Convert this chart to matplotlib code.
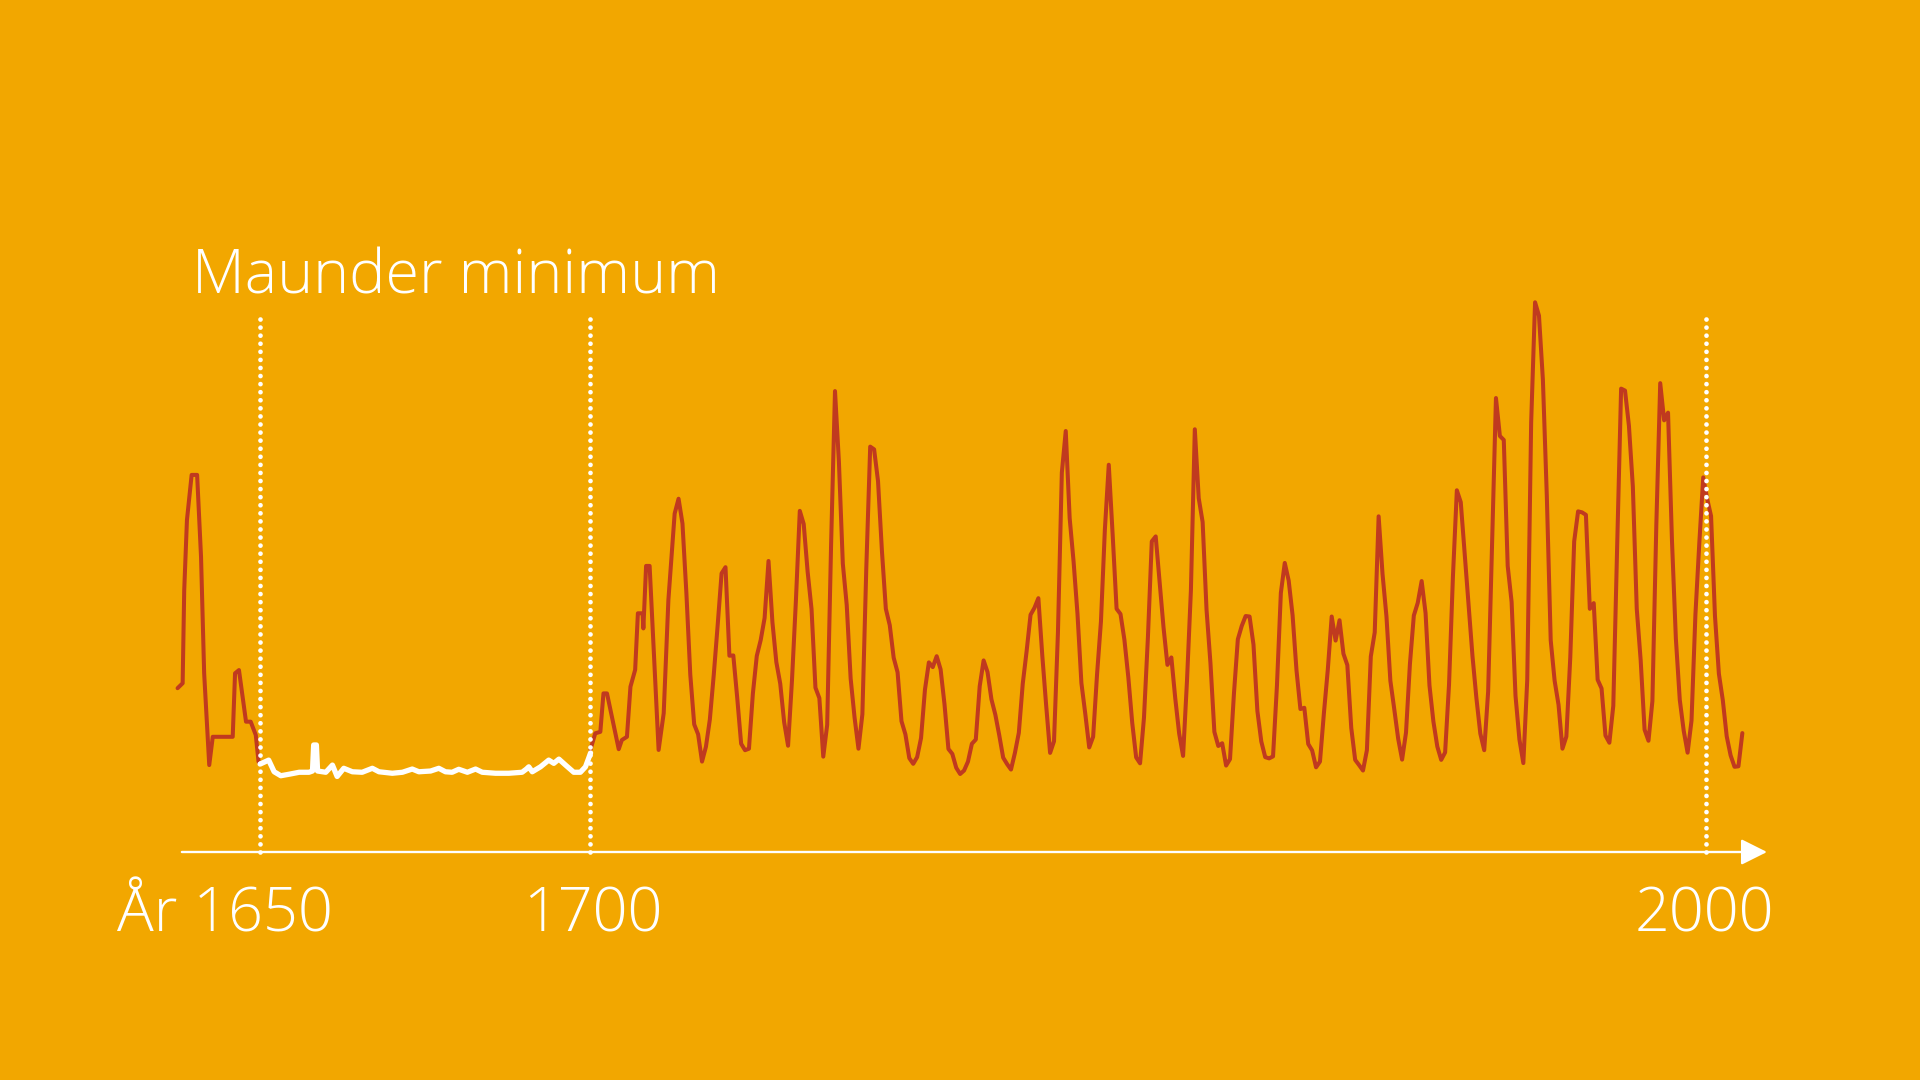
import numpy as np
import matplotlib
matplotlib.use("Agg")
import matplotlib.pyplot as plt

# ---------------- data ----------------
# early red segment (before the Maunder minimum)
early_years = [1609.9, 1611.2, 1611.6, 1612.3, 1613.5, 1614.9, 1615.9, 1616.7,
               1618.0, 1618.9, 1624.0, 1624.6, 1625.6, 1627.4, 1628.6, 1629.9,
               1630.6, 1631.0]
early_vals = [34.6, 36.6, 74.0, 102.4, 120.6, 120.6, 87.6, 40.6,
              3.6, 15.0, 15.0, 40.6, 41.9, 21.1, 21.1, 15.7,
              5.0, 4.0]

# Maunder minimum (white segment)
maunder_years = [1631.0, 1633.2, 1634.6, 1636.3, 1638.4, 1641.0, 1643.5, 1644.4,
                 1644.7, 1645.4, 1645.7, 1647.8, 1649.5, 1650.7, 1652.4, 1654.6,
                 1657.1, 1659.7, 1661.4, 1664.8, 1667.4, 1669.9, 1671.6, 1674.6,
                 1676.7, 1678.4, 1680.1, 1681.8, 1684.0, 1686.1, 1687.8, 1691.2,
                 1694.6, 1698.0, 1699.1, 1699.7, 1700.6, 1702.7, 1704.8, 1706.1,
                 1707.4, 1709.1, 1711.2, 1712.9, 1714.2, 1715.0, 1715.5]
maunder_vals = [4.0, 5.6, 0.9, -0.7, -0.1, 0.7, 0.7, 1.2,
                11.7, 11.7, 1.2, 0.7, 3.6, -1.0, 2.3, 0.9,
                0.7, 2.3, 0.9, 0.3, 0.7, 2.0, 0.9, 1.2,
                2.3, 0.9, 0.7, 1.9, 0.7, 2.0, 0.7, 0.3,
                0.3, 0.7, 2.0, 2.9, 0.9, 2.9, 5.6, 4.3,
                6.0, 3.6, 0.7, 0.7, 2.9, 6.3, 8.5]

# red segment right after the minimum
post_years = [1715.5, 1716.7, 1718.0, 1718.8, 1719.7, 1722.7, 1723.5, 1724.8,
              1725.7, 1726.9, 1727.6, 1728.8, 1729.0, 1729.7, 1730.6, 1732.9,
              1734.2, 1735.4, 1737.0]
post_vals = [10.0, 16.4, 17.0, 32.5, 32.5, 10.0, 13.7, 15.0,
             35.2, 42.0, 64.8, 64.8, 58.7, 83.9, 83.9, 9.7,
             24.5, 70.2, 105.0]

# yearly sunspot numbers 1738-2010
sn_years = list(range(1738, 2011))
sn_vals = [
    111.0, 101.0, 73.0, 40.0, 20.0, 16.0, 5.0, 11.0, 22.0, 40.0, 60.0, 80.9,   # 1738-1749
    83.4, 47.7, 47.8, 30.7, 12.2, 9.6, 10.2, 32.4, 47.6, 54.0,                 # 1750-1759
    62.9, 85.9, 61.2, 45.1, 36.4, 20.9, 11.4, 37.8, 69.8, 106.1,               # 1760-1769
    100.8, 81.6, 66.5, 34.8, 30.6, 7.0, 19.8, 92.5, 154.4, 125.9,              # 1770-1779
    84.8, 68.1, 38.5, 22.8, 10.2, 24.1, 82.9, 132.0, 130.9, 118.1,             # 1780-1789
    89.9, 66.6, 60.0, 46.9, 41.0, 21.3, 16.0, 6.4, 4.1, 6.8,                   # 1790-1799
    14.5, 34.0, 45.0, 43.1, 47.5, 42.2, 28.1, 10.1, 8.1, 2.5,                  # 1800-1809
    0.0, 1.4, 5.0, 12.2, 13.9, 35.4, 45.8, 41.1, 30.1, 23.9,                   # 1810-1819
    15.6, 6.6, 4.0, 1.8, 8.5, 16.6, 36.3, 49.6, 64.2, 67.0,                    # 1820-1829
    70.9, 47.8, 27.5, 8.5, 13.2, 56.9, 121.5, 138.3, 103.2, 85.7,              # 1830-1839
    64.6, 36.7, 24.2, 10.7, 15.0, 40.1, 61.5, 98.5, 124.7, 96.3,               # 1840-1849
    66.6, 64.5, 54.1, 39.0, 20.6, 6.7, 4.3, 22.7, 54.8, 93.8,                  # 1850-1859
    95.8, 77.2, 59.1, 44.0, 47.0, 30.5, 16.3, 7.3, 37.6, 74.0,                 # 1860-1869
    139.0, 111.2, 101.6, 66.2, 44.7, 17.0, 11.3, 12.4, 3.4, 6.0,               # 1870-1879
    32.3, 54.3, 59.7, 63.7, 63.5, 52.2, 25.4, 13.1, 6.8, 6.3,                  # 1880-1889
    7.1, 35.6, 73.0, 85.1, 78.0, 64.0, 41.8, 26.2, 26.7, 12.1,                 # 1890-1899
    9.5, 2.7, 5.0, 24.4, 42.0, 63.5, 53.8, 62.0, 48.5, 43.9,                   # 1900-1909
    18.6, 5.7, 3.6, 1.4, 9.6, 47.4, 57.1, 103.9, 80.6, 63.6,                   # 1910-1919
    37.6, 26.1, 14.2, 5.8, 16.7, 44.3, 63.9, 69.0, 77.8, 64.9,                 # 1920-1929
    35.7, 21.2, 11.1, 5.7, 8.7, 36.1, 79.7, 114.4, 109.6, 88.8,                # 1930-1939
    67.8, 47.5, 30.6, 16.3, 9.6, 33.2, 92.6, 151.6, 136.3, 134.7,              # 1940-1949
    83.9, 69.4, 31.5, 13.9, 4.4, 38.0, 141.7, 190.2, 184.8, 159.0,             # 1950-1959
    112.3, 53.9, 37.6, 27.9, 10.2, 15.1, 47.0, 93.8, 105.9, 105.5,             # 1960-1969
    104.5, 66.6, 68.9, 38.0, 34.5, 15.5, 12.6, 27.5, 92.5, 155.4,              # 1970-1979
    154.6, 140.4, 115.9, 66.6, 45.9, 17.9, 13.4, 29.4, 100.2, 157.6,           # 1980-1989
    142.6, 145.7, 94.3, 54.6, 29.9, 17.5, 8.6, 21.5, 64.3, 93.3,               # 1990-1999
    119.6, 111.0, 104.0, 63.7, 40.4, 29.8, 15.2, 7.5, 2.9, 3.1,                # 2000-2009
    16.5,                                                                      # 2010
]

marker_years = [1631.0, 1715.4, 2000.6]
axis_start_year = 1611.0
axis_end_year = 2016.3
tick_labels = ["År 1650", "1700", "2000"]
title_text = "Maunder minimum"

# ---------------- style ----------------
BG = "#F2A700"
RED = "#C03A1F"
WHITE = "#FFFFFF"
FONT = ["Open Sans", "DejaVu Sans"]

W, H, DPI = 1920, 1080, 100
PX_PER_YEAR = 3.911
REF_YEAR, REF_PX = 1778, 835
PX_PER_UNIT = 2.48
ZERO_PX = 774          # pixel row (from top) of value 0
AXIS_PX = 852
TOP_PX = 313

fig = plt.figure(figsize=(W / DPI, H / DPI), dpi=DPI, facecolor=BG)
ax = fig.add_axes([0, 0, 1, 1])
ax.set_facecolor(BG)
ax.set_xlim(REF_YEAR - REF_PX / PX_PER_YEAR, REF_YEAR + (W - REF_PX) / PX_PER_YEAR)
ax.set_ylim(-(H - ZERO_PX) / PX_PER_UNIT, ZERO_PX / PX_PER_UNIT)
ax.axis("off")

axis_val = -(AXIS_PX - ZERO_PX) / PX_PER_UNIT
top_val = (ZERO_PX - TOP_PX) / PX_PER_UNIT

# red series
ax.plot(early_years, early_vals, color=RED, lw=2.9,
        solid_joinstyle="round", solid_capstyle="round", zorder=3)
late_years = post_years + sn_years
late_vals = post_vals + sn_vals
ax.plot(late_years, late_vals, color=RED, lw=2.9,
        solid_joinstyle="round", solid_capstyle="round", zorder=3)

# Maunder minimum in white
ax.plot(maunder_years, maunder_vals, color=WHITE, lw=3.8,
        solid_joinstyle="round", solid_capstyle="round", zorder=4)

# dotted markers
for yr in marker_years:
    ax.plot([yr, yr], [axis_val, top_val], color=WHITE, lw=3.4,
            linestyle=(0, (0.01, 1.7)), dash_capstyle="round", zorder=5)

# time axis with arrow
ax.annotate("", xy=(axis_end_year, axis_val), xytext=(axis_start_year, axis_val),
            arrowprops=dict(arrowstyle="-|>,head_length=0.4,head_width=0.2",
                            mutation_scale=40, lw=1.7, color=WHITE,
                            shrinkA=0, shrinkB=0),
            zorder=5)

# texts
fig.text(192 / W, 1 - 294 / H, title_text, color=WHITE, fontsize=44,
         family=FONT, fontweight="light", ha="left", va="baseline")
label_fs = 44
fig.text(225 / W, 1 - 931 / H, tick_labels[0], color=WHITE, fontsize=label_fs,
         family=FONT, fontweight="light", ha="center", va="baseline")
fig.text(593 / W, 1 - 931 / H, tick_labels[1], color=WHITE, fontsize=label_fs,
         family=FONT, fontweight="light", ha="center", va="baseline")
fig.text(1704 / W, 1 - 931 / H, tick_labels[2], color=WHITE, fontsize=label_fs,
         family=FONT, fontweight="light", ha="center", va="baseline")

fig.savefig("out.png", dpi=DPI, facecolor=BG)
